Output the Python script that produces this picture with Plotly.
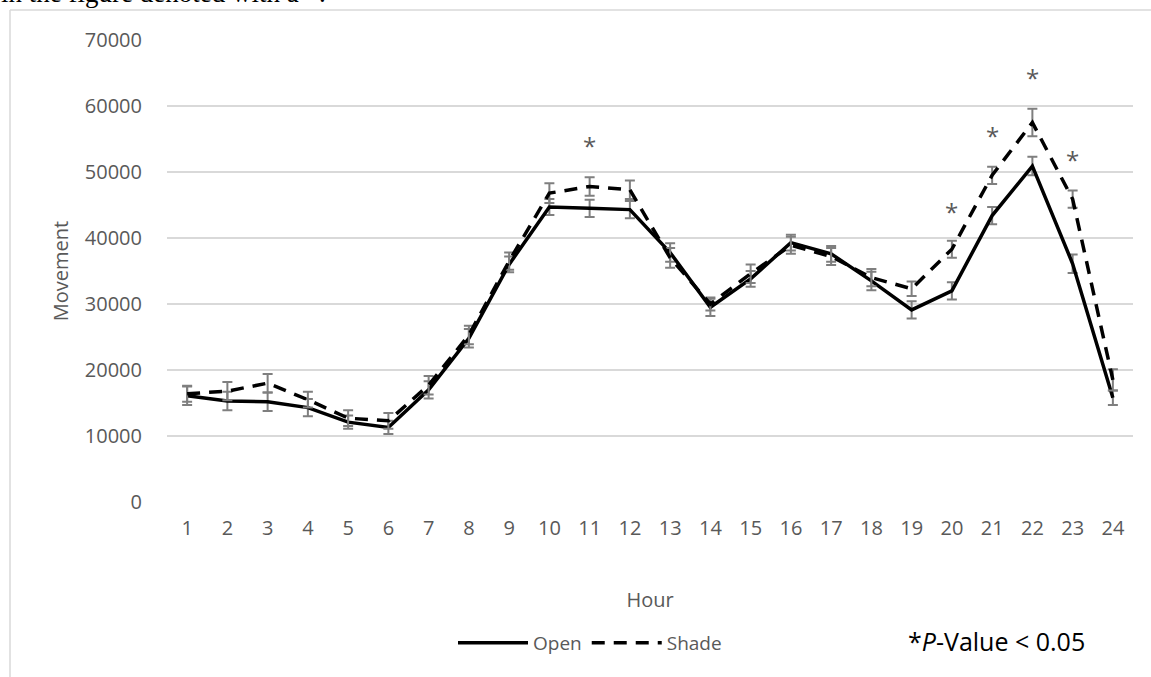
import plotly.graph_objects as go

hours = [str(h) for h in range(1, 25)]

open_vals = [16100, 15300, 15200, 14300, 12100, 11300, 17000, 24800, 36000, 44700, 44500, 44300,
             37800, 29500, 33800, 39300, 37600, 33500, 29100, 32000, 43400, 50900, 36100, 15800]
open_err = [1400, 1400, 1400, 1300, 1000, 1000, 1300, 1400, 1200, 1200, 1300, 1300,
            1400, 1300, 1200, 1200, 1200, 1400, 1300, 1300, 1300, 1400, 1400, 1100]

shade_vals = [16400, 16800, 18000, 15500, 12700, 12300, 17700, 25300, 36500, 46800, 47800, 47300,
              37000, 30000, 34600, 38900, 37200, 34000, 32300, 38300, 49500, 57500, 45900, 18500]
shade_err = [1200, 1400, 1400, 1200, 1200, 1200, 1400, 1400, 1300, 1500, 1400, 1400,
             1500, 1000, 1400, 1300, 1300, 1300, 1100, 1300, 1300, 2100, 1300, 1600]

star_hours = ["11", "20", "21", "22", "23"]
star_values = [54400, 44500, 56000, 64800, 52300]

y_ticks = [0, 10000, 20000, 30000, 40000, 50000, 60000, 70000]
y_tick_labels = [str(v) for v in y_ticks]

W, H = 1151, 677
L, R, T, B = 167, 18, 40, 175
pw, ph = W - L - R, H - T - B


def px_x(x):
    return (x - L) / pw


def px_y(y):
    return (H - B - y) / ph


fig = go.Figure()
err_style = dict(type="data", visible=True, thickness=2, width=5, color="#7f7f7f")

fig.add_trace(go.Scatter(
    x=hours, y=open_vals, name="Open", mode="lines",
    line=dict(color="black", width=3.5),
    error_y=dict(array=open_err, **err_style),
))
fig.add_trace(go.Scatter(
    x=hours, y=shade_vals, name="Shade", mode="lines",
    line=dict(color="black", width=3.5, dash="13px,9px"),
    error_y=dict(array=shade_err, **err_style),
))

annotations = []
for h, v in zip(star_hours, star_values):
    annotations.append(dict(x=hours.index(h), y=v, xref="x", yref="y", text="*", showarrow=False,
                            font=dict(family="Open Sans", size=24, color="#595959"),
                            yanchor="middle", yshift=-3))

annotations.append(dict(x=px_x(906), y=px_y(641), xref="paper", yref="paper",
                        text="*<i>P</i>-Value &lt; 0.05", showarrow=False,
                        xanchor="left", yanchor="middle",
                        font=dict(family="Open Sans", size=25, color="black")))

annotations.append(dict(x=px_x(-1), y=px_y(10), xref="paper", yref="paper",
                        text="in the figure denoted with a *.", showarrow=False,
                        xanchor="left", yanchor="bottom",
                        font=dict(family="Liberation Serif", size=27, color="black")))

shapes = [
    dict(type="line", xref="paper", yref="paper", x0=px_x(10), x1=px_x(1160),
         y0=px_y(10), y1=px_y(10), line=dict(color="#d9d9d9", width=1.5)),
    dict(type="line", xref="paper", yref="paper", x0=px_x(10), x1=px_x(10),
         y0=px_y(10), y1=px_y(690), line=dict(color="#d9d9d9", width=1.5)),
]

fig.update_layout(
    width=W, height=H,
    margin=dict(l=L, r=R, t=T, b=B, pad=0),
    paper_bgcolor="white", plot_bgcolor="white",
    font=dict(family="Open Sans", size=20, color="#595959"),
    showlegend=True,
    legend=dict(orientation="h", x=px_x(590), y=px_y(643), xanchor="center", yanchor="middle",
                font=dict(family="Open Sans", size=19, color="#595959"),
                itemwidth=70, bgcolor="rgba(0,0,0,0)"),
    annotations=annotations,
    shapes=shapes,
    xaxis=dict(type="category", range=[-0.5, 23.5], showgrid=False, showline=False,
               zeroline=False, ticks="", ticklabelstandoff=12,
               title=dict(text="Hour", standoff=52, font=dict(size=20, color="#595959")),
               tickfont=dict(size=20, color="#595959")),
    yaxis=dict(range=[0, 70000], tickvals=y_ticks, ticktext=y_tick_labels, showgrid=True,
               gridcolor="#d9d9d9", gridwidth=1.5, zeroline=False, showline=False, ticks="",
               ticklabelstandoff=24,
               title=dict(text="Movement", standoff=10, font=dict(size=20, color="#595959")),
               tickfont=dict(size=20, color="#595959")),
)

fig.write_html("out.html")
